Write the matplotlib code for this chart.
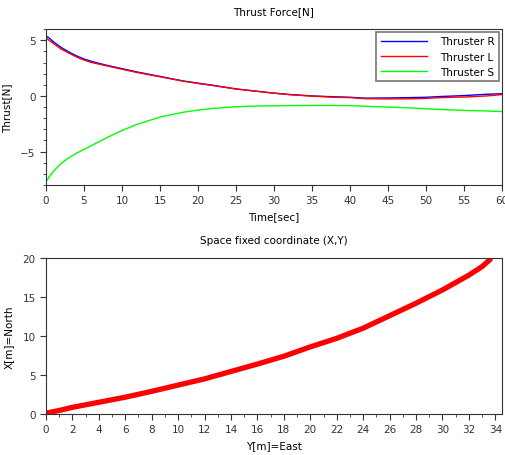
import matplotlib
matplotlib.use("Agg")
import matplotlib.pyplot as plt
from matplotlib.ticker import MultipleLocator

# thrust history
t = [0, 0.5, 1, 2, 3, 4, 5, 6, 7, 8, 10, 12, 15, 18, 20, 22, 25, 28, 30, 32, 35,
     38, 40, 42, 45, 48, 50, 52, 55, 58, 60]
thrust_r = [5.4, 5.15, 4.85, 4.35, 3.95, 3.6, 3.32, 3.1, 2.92, 2.75, 2.45, 2.15,
            1.75, 1.35, 1.15, 0.95, 0.63, 0.4, 0.25, 0.13, 0.0, -0.08, -0.12,
            -0.2, -0.18, -0.15, -0.12, -0.05, 0.03, 0.15, 0.2]
thrust_l = [5.2, 4.95, 4.7, 4.2, 3.85, 3.5, 3.22, 3.0, 2.85, 2.7, 2.4, 2.1, 1.72,
            1.33, 1.12, 0.93, 0.62, 0.4, 0.25, 0.12, -0.02, -0.12, -0.15, -0.25,
            -0.27, -0.26, -0.22, -0.15, -0.1, 0.0, 0.12]
thrust_s = [-7.7, -7.2, -6.75, -6.05, -5.55, -5.15, -4.8, -4.45, -4.1, -3.75,
            -3.1, -2.55, -1.9, -1.47, -1.27, -1.12, -0.97, -0.9, -0.88, -0.87,
            -0.86, -0.86, -0.87, -0.93, -1.0, -1.08, -1.15, -1.22, -1.3, -1.35,
            -1.4]

# trajectory
east = [0, 1, 2, 4, 6, 8, 10, 12, 14, 16, 18, 20, 22, 24, 26, 28, 30, 32, 33, 33.6]
north = [0.1, 0.45, 0.85, 1.5, 2.15, 2.9, 3.7, 4.5, 5.45, 6.4, 7.4, 8.6, 9.7, 11.0,
         12.6, 14.2, 15.9, 17.8, 18.9, 19.8]

plt.rcParams['font.family'] = 'DejaVu Sans'
plt.rcParams['font.size'] = 7.5

fig = plt.figure(figsize=(5.06, 4.56), dpi=100)

ax1 = fig.add_axes([0.0909, 0.592, 0.901, 0.342])
ax1.plot(t, thrust_r, color='#0000ff', lw=1, label='Thruster R')
ax1.plot(t, thrust_l, color='#ff0000', lw=1, label='Thruster L')
ax1.plot(t, thrust_s, color='#00ff00', lw=1, label='Thruster S')
ax1.set_xlim(0, 60)
ax1.set_ylim(-8, 6)
ax1.set_xticks(range(0, 61, 5))
ax1.set_yticks([-5, 0, 5])
ax1.yaxis.set_minor_locator(MultipleLocator(1))
ax1.set_title('Thrust Force[N]', fontsize=7.5, pad=11)
ax1.set_xlabel('Time[sec]', labelpad=4)
ax1.set_ylabel('Thrust[N]', labelpad=6)
leg = ax1.legend(loc='upper right', fancybox=False, edgecolor='#555555',
                 borderaxespad=0.3, handlelength=4.5, labelspacing=0.5,
                 handletextpad=1.2, fontsize=7.5)
leg.get_frame().set_linewidth(1.2)

ax2 = fig.add_axes([0.0909, 0.09, 0.901, 0.342])
ax2.plot(east, north, color='#ff0000', lw=3.8, solid_capstyle='round')
ax2.set_xlim(0, 34.5)
ax2.set_ylim(0, 20)
ax2.set_xticks(range(0, 35, 2))
ax2.xaxis.set_minor_locator(MultipleLocator(1))
ax2.set_yticks([0, 5, 10, 15, 20])
ax2.set_title('Space fixed coordinate (X,Y)', fontsize=7.5, pad=11)
ax2.set_xlabel('Y[m]=East', labelpad=4)
ax2.set_ylabel('X[m]=North', labelpad=6)

for ax in (ax1, ax2):
    for s in ax.spines.values():
        s.set_color('#333333')
    ax.tick_params(which='major', length=4, direction='out', colors='#333333',
                   labelcolor='#333333')
    ax.tick_params(which='minor', length=2.5, direction='out', colors='#333333')

fig.savefig('out.png', dpi=100)
